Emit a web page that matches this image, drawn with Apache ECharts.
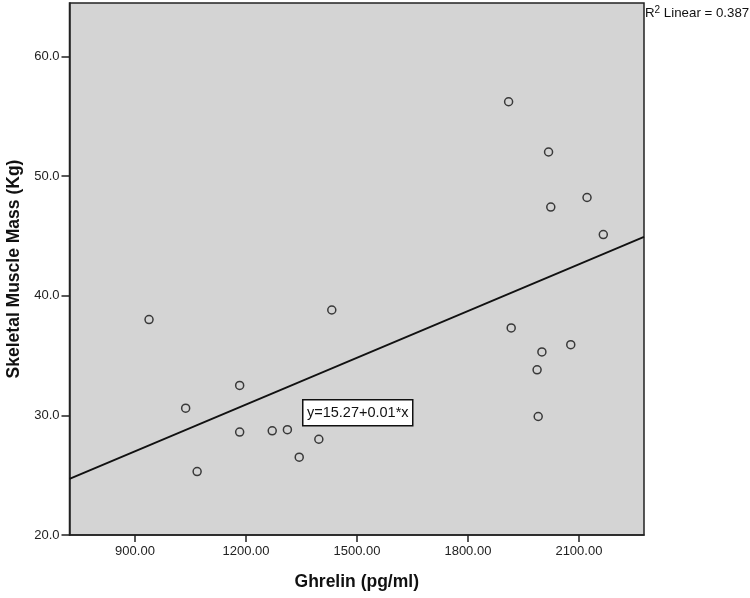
<!DOCTYPE html>
<html>
<head>
<meta charset="utf-8">
<script src="https://cdn.jsdelivr.net/npm/echarts@6/dist/echarts.min.js"></script>
<style>
html,body{margin:0;padding:0;background:#fff;}
#chart{width:750px;height:598px;}
</style>
</head>
<body>
<div id="chart"></div>
<script>
// Data
const ghrelin = [938, 1037, 1068, 1183, 1183, 1271, 1312, 1344, 1397, 1432, 1910, 2018, 2024, 2122, 2166, 1917, 2000, 2078, 1987, 1990];
const muscleMass = [38.0, 30.6, 25.3, 32.5, 28.6, 28.7, 28.8, 26.5, 28.0, 38.8, 56.2, 52.0, 47.4, 48.2, 45.1, 37.3, 35.3, 35.9, 33.8, 29.9];
const xTicks = [900, 1200, 1500, 1800, 2100];
const yTicks = [20, 30, 40, 50, 60];
const xRange = [723, 2276];
const yRange = [20, 64.45];
const fitIntercept = 15.27;
const fitSlope = 0.01302;
const equationText = 'y=15.27+0.01*x';
const r2Text = '0.387';

const points = ghrelin.map((x, i) => [x, muscleMass[i]]);
const fitLine = xRange.map(x => [x, fitIntercept + fitSlope * x]);

const chart = echarts.init(document.getElementById('chart'), null, {renderer: 'canvas'});
const font = 'Arial, "Liberation Sans", sans-serif';
chart.setOption({
  animation: false,
  backgroundColor: '#fff',
  grid: {
    left: 69.5, right: 106, top: 3, bottom: 63,
    containLabel: false, outerBoundsMode: 'none',
    show: true, backgroundColor: '#d4d4d4', borderColor: '#222', borderWidth: 1.5
  },
  xAxis: {
    type: 'value', min: xRange[0], max: xRange[1],
    name: 'Ghrelin (pg/ml)', nameLocation: 'middle', nameGap: 38,
    nameTextStyle: {fontFamily: font, fontWeight: 'bold', fontSize: 17.5, color: '#111'},
    splitLine: {show: false},
    axisLine: {show: true, lineStyle: {color: '#222', width: 1.5}},
    axisTick: {show: true, length: 7, customValues: xTicks, lineStyle: {color: '#222', width: 1.5}},
    axisLabel: {customValues: xTicks, fontFamily: font, fontSize: 13, color: '#222', margin: 10,
      formatter: v => v.toFixed(2)}
  },
  yAxis: {
    type: 'value', min: yRange[0], max: yRange[1],
    name: 'Skeletal Muscle Mass (Kg)', nameLocation: 'middle', nameGap: 43, nameRotate: 90,
    nameTextStyle: {fontFamily: font, fontWeight: 'bold', fontSize: 17.5, color: '#111'},
    splitLine: {show: false},
    axisLine: {show: true, lineStyle: {color: '#222', width: 1.5}},
    axisTick: {show: true, length: 8, customValues: yTicks, lineStyle: {color: '#222', width: 1.5}},
    axisLabel: {customValues: yTicks, fontFamily: font, fontSize: 13, color: '#222', margin: 10,
      formatter: v => v.toFixed(1)}
  },
  series: [
    {
      type: 'line', data: fitLine, symbol: 'none', silent: true,
      lineStyle: {color: '#111', width: 1.8}, z: 2
    },
    {
      type: 'scatter', data: points, symbol: 'circle', symbolSize: 8,
      itemStyle: {color: 'rgba(0,0,0,0)', borderColor: '#111', borderWidth: 1.5}, z: 3
    }
  ],
  graphic: [
    {
      type: 'group', left: 302, top: 399, z: 10,
      children: [
        {type: 'rect', shape: {x: 0, y: 0, width: 110, height: 26},
          style: {fill: '#fff', stroke: '#111', lineWidth: 1.5}},
        {type: 'text', x: 55, y: 13,
          style: {text: equationText, fontFamily: font, fontSize: 14.5, fill: '#111',
            align: 'center', verticalAlign: 'middle'}}
      ]
    },
    {
      type: 'text', left: 645, top: 5, z: 10,
      style: {
        text: '{r|R}{sup|2}{r| Linear = ' + r2Text + '}',
        rich: {
          r: {fontFamily: font, fontSize: 13.3, fill: '#111', verticalAlign: 'bottom'},
          sup: {fontFamily: font, fontSize: 10, fill: '#111', verticalAlign: 'top', padding: [0, 0, 5, 0]}
        }
      }
    }
  ]
});
</script>
</body>
</html>
